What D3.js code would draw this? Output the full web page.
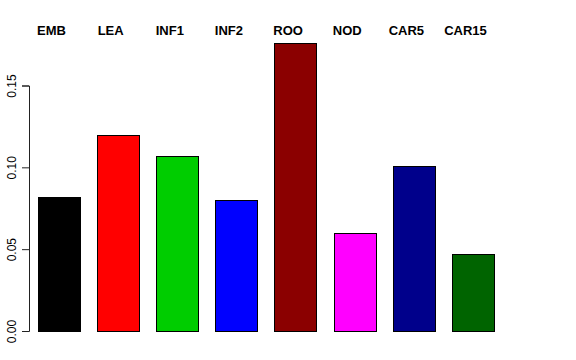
<!DOCTYPE html>
<html>
<head>
<meta charset="utf-8">
<script src="https://cdn.jsdelivr.net/npm/d3@7"></script>
<style>
  body { margin: 0; background: #fff; }
  text { font-family: "Liberation Sans", Arial, Helvetica, sans-serif; }
</style>
</head>
<body>
<div id="chart"></div>
<script>
// bar heights per tissue
const categories = ['EMB', 'LEA', 'INF1', 'INF2', 'ROO', 'NOD', 'CAR5', 'CAR15'];
const values = [0.082, 0.120, 0.107, 0.080, 0.176, 0.0597, 0.101, 0.0472];
const barColors = ['#000000', '#ff0000', '#00cd00', '#0000ff', '#8b0000', '#ff00ff', '#00008b', '#006400'];
const yTicks = [0, 0.05, 0.10, 0.15];

const width = 576, height = 360;

const svg = d3.select('#chart')
    .append('svg')
    .attr('width', width)
    .attr('height', height);

const x = d3.scaleBand()
    .domain(categories)
    .range([21, 511])
    .paddingInner(0.4 / 1.4)
    .paddingOuter(0.4 / 1.4);

const y = d3.scaleLinear()
    .domain([0, 0.15])
    .range([331, 85.5]);

// bars
svg.append('g')
    .selectAll('rect')
    .data(categories)
    .enter().append('rect')
    .attr('x', d => Math.round(x(d)) + 0.5)
    .attr('y', (d, i) => Math.round(y(values[i])) + 0.5)
    .attr('width', Math.round(x.bandwidth()))
    .attr('height', (d, i) => Math.round(y(0)) - Math.round(y(values[i])))
    .style('fill', (d, i) => barColors[i])
    .style('stroke', '#000')
    .style('stroke-width', 1);

// y axis, R style
const yAxis = d3.axisLeft(y)
    .tickValues(yTicks)
    .tickSize(7)
    .tickFormat(d3.format('.2f'));

const gy = svg.append('g')
    .attr('transform', 'translate(29,0)')
    .call(yAxis);
gy.select('.domain').attr('stroke', '#222');
gy.selectAll('.tick line').attr('stroke', '#222');
gy.selectAll('.tick text')
    .attr('x', 0)
    .attr('dy', 0)
    .attr('transform', 'translate(-13,0) rotate(-90)')
    .attr('text-anchor', 'middle')
    .style('font-size', '12px')
    .style('fill', '#000');

// category labels along the top
svg.append('g')
    .selectAll('text')
    .data(categories)
    .enter().append('text')
    .attr('x', d => x(d) + x.bandwidth() / 2 - 7.5)
    .attr('y', 35)
    .attr('text-anchor', 'middle')
    .style('font-size', '13px')
    .style('font-weight', 'bold')
    .text(d => d);
</script>
</body>
</html>
